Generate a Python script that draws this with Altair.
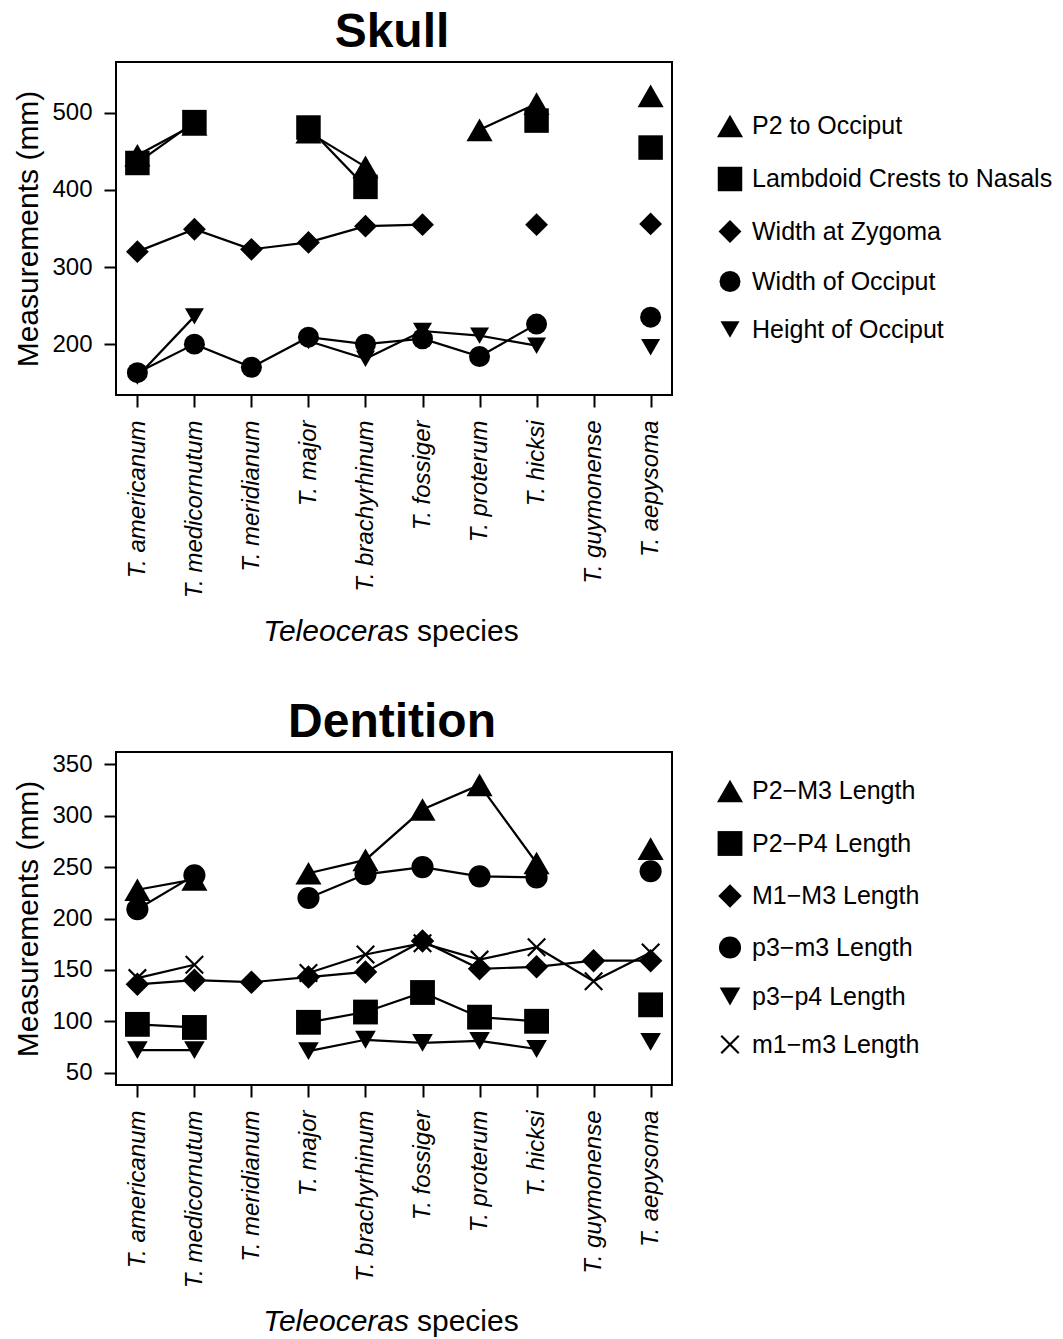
import altair as alt
import pandas as pd

FONT = "Liberation Sans"

species = ["T. americanum", "T. medicornutum", "T. meridianum", "T. major",
           "T. brachyrhinum", "T. fossiger", "T. proterum", "T. hicksi",
           "T. guymonense", "T. aepysoma"]

# ---- Skull measurements (mm) ----
skull_series = ["P2 to Occiput", "Lambdoid Crests to Nasals", "Width at Zygoma",
                "Width of Occiput", "Height of Occiput"]
p2_to_occiput = [445, 485, None, 475, 430, None, 478, 512, None, 522]
lambdoid_to_nasals = [435, 488, None, 481, 404, None, None, 490, None, 455]
width_at_zygoma = [320, 349, 323, 332, 353, 355, None, 355, None, 356]
width_of_occiput = [163, 200, 170, 209, 200, 207, 184, 226, None, 235]
height_of_occiput = [158, 236, None, 204, 181, 217, 211, 198, None, 196]

# ---- Dentition measurements (mm) ----
dent_series = ["P2\u2212M3 Length", "P2\u2212P4 Length", "M1\u2212M3 Length",
               "p3\u2212m3 Length", "p3\u2212p4 Length", "m1\u2212m3 Length"]
P2_M3 = [228, 238, None, 244, 257, 306, 330, 254, None, 268]
P2_P4 = [97, 94, None, 99, 109, 128, 104, 100, None, 116]
M1_M3 = [136, 140, 138, 143, 148, 178, 151, 153, 159, 159]
p3_m3 = [209, 242, None, 220, 243, 250, 241, 240, None, 246]
p3_p4 = [72, 72, None, 71, 82, 79, 81, 73, None, 80]
m1_m3 = [142, 155, None, 147, 165, 176, 160, 172, 139, 167]

skull_ticks = [200, 300, 400, 500]
dent_ticks = [50, 100, 150, 200, 250, 300, 350]

# thin filled "x" glyph (R pch 4)
XSHAPE = ("M-1,-0.84L-0.84,-1L0,-0.16L0.84,-1L1,-0.84L0.16,0L1,0.84L0.84,1"
          "L0,0.16L-0.84,1L-1,0.84L-0.16,0Z")
skull_shapes = ["triangle-up", "square", "diamond", "circle", "triangle-down"]
skull_sizes = [680, 361, 576, 440, 660]
dent_shapes = ["triangle-up", "square", "diamond", "circle", "triangle-down", XSHAPE]
dent_sizes = [680, 361, 576, 440, 660, 460]

W, H = 556, 333


def long_df(names, values):
    rows = []
    for name, vals in zip(names, values):
        run = 0
        gap = True
        for sp, v in zip(species, vals):
            if v is None:
                gap = True
                continue
            if gap:
                run += 1
                gap = False
            rows.append({"species": sp, "series": name, "value": v,
                         "seg": f"{name}#{run}"})
    return pd.DataFrame(rows)


def make_legend(legend_y):
    return alt.Legend(orient="none", legendX=600, legendY=legend_y,
                      title=None, labelFontSize=25, labelFont=FONT,
                      labelColor="black", labelLimit=500,
                      symbolFillColor="black", symbolStrokeColor="black",
                      symbolOpacity=1,
                      rowPadding=22, labelOffset=8, padding=0)


def panel(df, names, shapes, sizes, ticks, ydomain, title, legend_y):
    x = alt.X("species:N", sort=species,
              scale=alt.Scale(type="point", domain=species, padding=0.375),
              axis=alt.Axis(title=None, labelAngle=270, labelFontStyle="italic",
                            labelFontSize=24, labelFont=FONT, labelColor="black",
                            tickSize=12, tickWidth=2, tickColor="black",
                            labelPadding=13, domain=False, grid=False,
                            labelLimit=400))
    y = alt.Y("value:Q",
              scale=alt.Scale(domain=ydomain, nice=False, zero=False),
              axis=alt.Axis(values=ticks, title="Measurements (mm)",
                            titleFontSize=30, titleFont=FONT, titleFontWeight="normal",
                            titleColor="black", titlePadding=8,
                            labelFontSize=24, labelFont=FONT, labelColor="black",
                            tickSize=12, tickWidth=2, tickColor="black",
                            labelPadding=12, domain=False, grid=False))
    lines = alt.Chart(df).mark_line(color="black", strokeWidth=2.2).encode(
        x=x, y=y, detail="seg:N")
    points = alt.Chart(df).mark_point(
        filled=True, color="black", opacity=1
    ).encode(
        x=x, y=y,
        shape=alt.Shape("series:N", scale=alt.Scale(domain=names, range=shapes),
                        legend=make_legend(legend_y)),
        size=alt.Size("series:N", scale=alt.Scale(domain=names, range=sizes),
                      legend=make_legend(legend_y)),
    )
    ttl = alt.Chart(pd.DataFrame({"t": [title]})).mark_text(
        fontSize=48, fontWeight="bold", font=FONT, color="black",
        align="center", baseline="alphabetic"
    ).encode(text="t:N", x=alt.value(W / 2 - 2), y=alt.value(-15))
    xt1 = alt.Chart(pd.DataFrame({"t": ["Teleoceras"]})).mark_text(
        fontSize=30, fontStyle="italic", font=FONT, color="black",
        align="right", baseline="alphabetic"
    ).encode(text="t:N", x=alt.value(W / 2 + 15), y=alt.value(579))
    xt2 = alt.Chart(pd.DataFrame({"t": ["species"]})).mark_text(
        fontSize=30, font=FONT, color="black",
        align="left", baseline="alphabetic"
    ).encode(text="t:N", x=alt.value(W / 2 + 23), y=alt.value(579))
    return alt.layer(lines, points, ttl, xt1, xt2).properties(width=W, height=H)


skull_df = long_df(skull_series, [p2_to_occiput, lambdoid_to_nasals, width_at_zygoma,
                                  width_of_occiput, height_of_occiput])
dent_df = long_df(dent_series, [P2_M3, P2_P4, M1_M3, p3_m3, p3_p4, m1_m3])

skull = panel(skull_df, skull_series, skull_shapes, skull_sizes, skull_ticks,
              [134, 566], "Skull", 50)
dent = panel(dent_df, dent_series, dent_shapes, dent_sizes, dent_ticks,
             [38, 362], "Dentition", 25)

chart = alt.vconcat(skull, dent, spacing=50).resolve_scale(
    shape="independent", size="independent", y="independent"
).configure(
    font=FONT, padding={"left": 12, "top": 8, "right": 5, "bottom": 5},
    background="white"
).configure_view(stroke="black", strokeWidth=2)

chart.save("out.html", embed_options={"renderer": "svg", "actions": False})
